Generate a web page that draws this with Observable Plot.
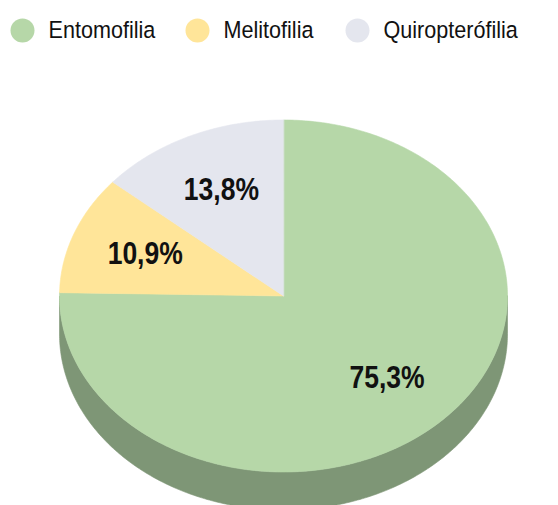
<!DOCTYPE html>
<html><head><meta charset="utf-8">
<script src="https://cdn.jsdelivr.net/npm/d3@7"></script>
<script src="https://cdn.jsdelivr.net/npm/@observablehq/plot@0.6"></script>
<style>body{margin:0;background:#fff}</style>
</head><body><div id="chart"></div>
<script>
const categories = ["Entomofilia", "Melitofilia", "Quiropterófilia"];
const values = [75.3, 10.9, 13.8];
const labels = ["75,3%", "10,9%", "13,8%"];
const colors = ["#b6d7a8", "#ffe599", "#e4e6ee"];
const sideColors = ["#7e9676", "#c9b578", "#b3b5bd"];

const W = 558, H = 505;
const cx = 283, cy = 295.5, rx = 224, ry = 176, depth = 38, labelK = 0.66;
const legendX = [22, 197, 357];

const total = d3.sum(values);
let acc = 0;
const slices = values.map((v, i) => {
  const a0 = acc / total * 2 * Math.PI; acc += v;
  const a1 = acc / total * 2 * Math.PI;
  return {i, a0, a1, mid: (a0 + a1) / 2};
});
const px = a => cx + rx * Math.sin(a);
const py = a => cy - ry * Math.cos(a);

function arc(a0, a1, dy = 0) {
  const n = Math.max(2, Math.ceil(Math.abs(a1 - a0) * 80));
  const out = [];
  for (let j = 0; j <= n; j++) { const a = a0 + (a1 - a0) * j / n; out.push({x: px(a), y: py(a) + dy}); }
  return out;
}

const sideMarks = [];
const topMarks = [];
slices.forEach(s => {
  const lo = Math.max(s.a0, Math.PI / 2), hi = Math.min(s.a1, 3 * Math.PI / 2);
  if (lo < hi) {
    const pts = [...arc(lo, hi), ...arc(hi, lo, depth)];
    sideMarks.push(Plot.line(pts, {x: "x", y: "y", fill: sideColors[s.i], stroke: sideColors[s.i], strokeWidth: 0.6, curve: "linear-closed"}));
  }
  const pts = [{x: cx, y: cy}, ...arc(s.a0, s.a1)];
  topMarks.push(Plot.line(pts, {x: "x", y: "y", fill: colors[s.i], stroke: colors[s.i], strokeWidth: 0.6, curve: "linear-closed"}));
});

const labelData = slices.map(s => ({
  x: cx + rx * labelK * Math.sin(s.mid),
  y: cy - ry * labelK * Math.cos(s.mid) - 1,
  t: labels[s.i]
}));

const chart = Plot.plot({
  width: W, height: H, margin: 0,
  style: {background: "#fff", fontFamily: "'Liberation Sans', Arial, sans-serif"},
  x: {domain: [0, W], range: [0, W], axis: null},
  y: {domain: [0, H], range: [0, H], axis: null},
  color: {type: "identity"},
  marks: [
    ...sideMarks,
    ...topMarks,
    Plot.text(labelData, {x: "x", y: "y", text: "t", fontSize: 26.5, fontWeight: "bold", fill: "#111", textAnchor: "middle", lineAnchor: "middle", className: "pielabel"}),
    Plot.dot(categories, {x: (d, i) => legendX[i], y: () => 30, r: 12, fill: (d, i) => colors[i], stroke: null}),
    Plot.text(categories, {x: (d, i) => legendX[i] + 26, y: () => 30, text: d => d, fontSize: 21.6, fill: "#111", textAnchor: "start", lineAnchor: "middle", className: "legendtext"})
  ]
});
document.getElementById("chart").append(chart);

// slight vertical stretch of the glyphs, as in the reference rendering
const svgRect = chart.getBoundingClientRect();
chart.querySelectorAll("text").forEach(t => {
  const isLabel = t.closest(".pielabel") !== null;
  const s = isLabel ? 1.2 : 1.1;
  const r = t.getBoundingClientRect();
  const c = r.top - svgRect.top + r.height / 2;
  const g = document.createElementNS("http://www.w3.org/2000/svg", "g");
  g.setAttribute("transform", `translate(0,${c}) scale(1,${s}) translate(0,${-c})`);
  t.parentNode.insertBefore(g, t);
  g.appendChild(t);
});
</script>
</body></html>
